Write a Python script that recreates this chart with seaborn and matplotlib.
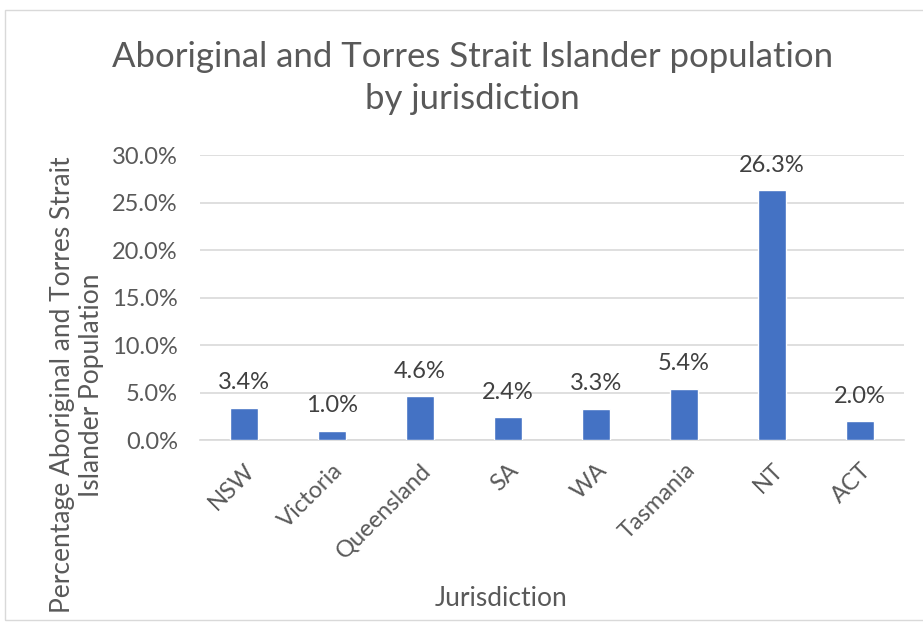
import matplotlib
matplotlib.use("Agg")
import matplotlib.pyplot as plt
import matplotlib.patches as mpatches
import pandas as pd
import seaborn as sns

# Data
jurisdictions = ["NSW", "Victoria", "Queensland", "SA", "WA", "Tasmania", "NT", "ACT"]
shares = [0.034, 0.010, 0.046, 0.024, 0.033, 0.054, 0.263, 0.020]
yticks = [0.0, 0.05, 0.10, 0.15, 0.20, 0.25, 0.30]

df = pd.DataFrame({"Jurisdiction": jurisdictions, "share": shares})

sns.set_theme(style="white")
plt.rcParams["font.family"] = ["Lato", "DejaVu Sans"]
grey = "#595959"

fig = plt.figure(figsize=(9.23, 6.26), dpi=100)
ax = fig.add_axes([0.2167, 0.297, 0.7627, 0.455])

sns.barplot(data=df, x="Jurisdiction", y="share", color="#4472C4", saturation=1,
            width=0.32, ax=ax, zorder=3)

ax.set_ylim(0, 0.30)
ax.set_yticks(yticks)
ax.set_yticklabels([f"{t*100:.1f}%" for t in yticks], color=grey, fontsize=17)
ax.set_xticks(range(len(jurisdictions)))
ax.set_xticklabels(jurisdictions, rotation=45, ha="right", rotation_mode="anchor",
                   color=grey, fontsize=17)
ax.tick_params(axis="y", length=0, pad=16)
ax.tick_params(axis="x", length=0, pad=14)
ax.grid(axis="y", color="#d9d9d9", linewidth=1.2, zorder=0)
for s in ["top", "right", "left"]:
    ax.spines[s].set_visible(False)
ax.spines["bottom"].set_color("#d9d9d9")
ax.spines["bottom"].set_linewidth(1.2)

for i, v in enumerate(shares):
    ax.annotate(f"{v*100:.1f}%", (i, v), xytext=(0, 18), textcoords="offset points",
                ha="center", va="center", color="#404040", fontsize=17)

ax.set_xlabel("")
ax.set_ylabel("")
fig.text(501 / 923, 1 - 598 / 626, "Jurisdiction", ha="center", va="center",
         color=grey, fontsize=19)
fig.text(77 / 923, 1 - 385 / 626,
         "Percentage Aboriginal and Torres Strait\nIslander Population",
         ha="center", va="center", rotation=90, color=grey, fontsize=19,
         linespacing=1.15)
fig.text(0.512, 1 - 78 / 626,
         "Aboriginal and Torres Strait Islander population\nby jurisdiction",
         ha="center", va="center", fontsize=25, color=grey, linespacing=1.4)

# chart border
fig.patches.append(mpatches.Rectangle((5 / 923, 6 / 626), 1.2, 610 / 626,
                                      transform=fig.transFigure, fill=False,
                                      edgecolor="#d9d9d9", linewidth=1))

fig.savefig("out.png", dpi=100)
